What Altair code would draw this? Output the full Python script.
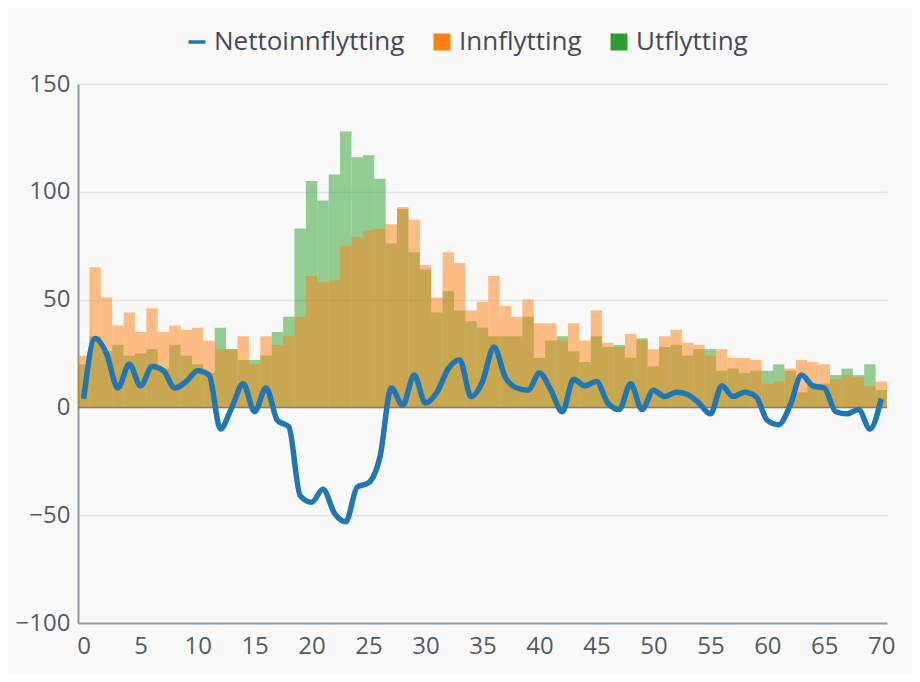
import altair as alt
import pandas as pd

ages = list(range(0, 71))

innflytting = [24, 65, 51, 38, 44, 35, 46, 35, 38, 36,
               37, 31, 27, 27, 33, 20, 33, 29, 33, 42,
               61, 58, 59, 75, 79, 82, 83, 85, 93, 87,
               66, 51, 72, 67, 45, 49, 61, 47, 42, 50,
               39, 39, 31, 39, 31, 45, 30, 28, 34, 31,
               27, 33, 36, 30, 29, 24, 27, 23, 23, 22,
               11, 12, 18, 22, 21, 20, 13, 15, 14, 10,
               12]

utflytting = [20, 33, 26, 29, 24, 25, 27, 18, 29, 24,
              20, 16, 37, 27, 22, 22, 24, 35, 42, 83,
              105, 96, 108, 128, 116, 117, 106, 76, 92, 72,
              64, 44, 54, 45, 40, 37, 33, 33, 33, 42,
              23, 31, 33, 26, 21, 33, 28, 29, 23, 32,
              19, 28, 29, 24, 27, 27, 17, 18, 16, 17,
              17, 20, 17, 7, 11, 11, 15, 18, 15, 20,
              8]

series_names = ["Nettoinnflytting", "Innflytting", "Utflytting"]
series_colors = ["#1f77b4", "#ff7f0e", "#2ca02c"]
x_ticks = list(range(0, 71, 5))
y_ticks = [-100, -50, 0, 50, 100, 150]

df = pd.DataFrame({"alder": ages, "Innflytting": innflytting, "Utflytting": utflytting})

FONT = "Open Sans"

x_scale = alt.Scale(domain=[-0.5, 70.5], nice=False, zero=False)
y_scale = alt.Scale(domain=[-100, 150], nice=False)

color_scale = alt.Scale(domain=series_names, range=series_colors)

legend = alt.Legend(
    title=None,
    orient="none",
    legendX=106,
    legendY=-55,
    direction="horizontal",
    labelFont=FONT,
    labelFontSize=26,
    labelColor="#444a55",
    labelLimit=0,
    symbolSize=289,
    symbolOpacity=1,
    labelOffset=4,
    columnPadding=24,
    symbolType=alt.ExprRef("datum.value == 'Nettoinnflytting' ? 'stroke' : 'square'"),
    symbolStrokeColor=alt.ExprRef("scale('color', datum.value)"),
    symbolStrokeWidth=alt.ExprRef("datum.value == 'Nettoinnflytting' ? 3.5 : 0"),
)

x_axis = alt.Axis(
    values=x_ticks, title=None, grid=False, ticks=False,
    labelFont=FONT, labelFontSize=24, labelColor="#555a60", labelPadding=11,
    domainColor="#8d9ba6", domainWidth=2,
)
y_axis = alt.Axis(
    values=y_ticks, title=None, grid=True, ticks=False,
    gridColor="#dfe3e8", gridWidth=1.5,
    labelFont=FONT, labelFontSize=24, labelColor="#555a60", labelPadding=8,
    domainColor="#8d9ba6", domainWidth=2,
)

base = alt.Chart(df)

bars_src = base.transform_fold(
    ["Innflytting", "Utflytting"], as_=["serie", "verdi"]
).transform_calculate(
    x0="datum.alder - 0.5", x1="datum.alder + 0.5"
)

zero_rule = base.transform_aggregate(n="count()").transform_calculate(
    nullpunkt="0"
).mark_rule(color="#7a7a60", strokeWidth=1.5).encode(
    y=alt.Y("nullpunkt:Q", scale=y_scale, axis=y_axis)
)

ut_bars = bars_src.transform_filter(alt.datum.serie == "Utflytting").mark_rect(opacity=0.5).encode(
    x=alt.X("x0:Q", scale=x_scale, axis=x_axis),
    x2="x1:Q",
    y=alt.Y("verdi:Q", scale=y_scale, axis=y_axis),
    y2=alt.datum(0),
    color=alt.Color("serie:N", scale=color_scale, legend=legend),
)

inn_bars = bars_src.transform_filter(alt.datum.serie == "Innflytting").mark_rect(opacity=0.5).encode(
    x=alt.X("x0:Q", scale=x_scale, axis=x_axis),
    x2="x1:Q",
    y=alt.Y("verdi:Q", scale=y_scale, axis=y_axis),
    y2=alt.datum(0),
    color=alt.Color("serie:N", scale=color_scale, legend=legend),
)

line = base.transform_calculate(
    netto="datum.Innflytting - datum.Utflytting",
    serie="'Nettoinnflytting'",
).mark_line(strokeWidth=5.5, interpolate="monotone").encode(
    x=alt.X("alder:Q", scale=x_scale, axis=x_axis),
    y=alt.Y("netto:Q", scale=y_scale, axis=y_axis),
    color=alt.Color("serie:N", scale=color_scale, legend=legend),
)

chart = alt.layer(zero_rule, ut_bars, inn_bars, line).properties(
    width=809,
    height=539,
    padding={"left": 70, "top": 76, "right": 25, "bottom": 50},
    autosize=alt.AutoSizeParams(type="none"),
    background="#f9f9f9",
).configure_view(stroke=None)

chart.save("out.html", embed_options={"renderer": "svg", "actions": False})
